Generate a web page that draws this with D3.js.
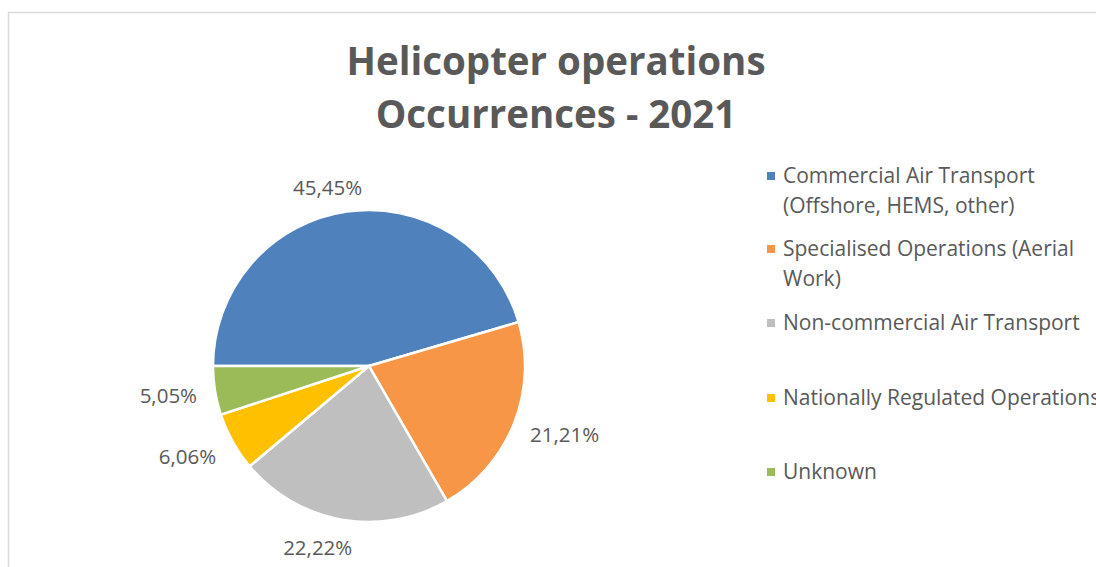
<!DOCTYPE html>
<html>
<head>
<meta charset="utf-8">
<script src="https://cdn.jsdelivr.net/npm/d3@7/dist/d3.min.js"></script>
<style>
  html, body { margin: 0; padding: 0; background: #fff; overflow: hidden; }
  svg { display: block; }
  text { font-family: "Open Sans", "Noto Sans", sans-serif; fill: #595959; }
</style>
</head>
<body>
<svg id="chart" width="1096" height="567"></svg>
<script>
// Occurrences by operation type, 2021
const categories = [
  "Commercial Air Transport (Offshore, HEMS, other)",
  "Specialised Operations (Aerial Work)",
  "Non-commercial Air Transport",
  "Nationally Regulated Operations",
  "Unknown"
];
const legendLines = [
  ["Commercial Air Transport", "(Offshore, HEMS, other)"],
  ["Specialised Operations (Aerial", "Work)"],
  ["Non-commercial Air Transport"],
  ["Nationally Regulated Operations"],
  ["Unknown"]
];
const occurrences = [45, 21, 22, 6, 5];
const colors = ["#4f81bd", "#f79646", "#bfbfbf", "#ffc000", "#9bbb59"];
const titleLines = ["Helicopter operations", "Occurrences - 2021"];

const svg = d3.select("#chart");

// chart area frame
svg.append("path")
  .attr("d", "M8.5,567 L8.5,12.5 L1096,12.5")
  .attr("fill", "none")
  .attr("stroke", "#d9d9d9")
  .attr("stroke-width", 1.5);

// title
const title = svg.append("text")
  .attr("text-anchor", "middle")
  .attr("font-size", 38.5)
  .attr("font-weight", "bold");
titleLines.forEach((t, i) => {
  title.append("tspan").attr("x", 556).attr("y", 75 + i * 53).text(t);
});

// pie
const cx = 369, cy = 366, r = 156;
const total = d3.sum(occurrences);
const pie = d3.pie().sort(null)
  .startAngle(-Math.PI / 2)
  .endAngle(1.5 * Math.PI);
const arcs = pie(occurrences);
const arc = d3.arc().innerRadius(0).outerRadius(r);
const color = d3.scaleOrdinal().domain(categories).range(colors);

const g = svg.append("g").attr("transform", `translate(${cx},${cy})`);
g.selectAll("path.slice")
  .data(arcs)
  .join("path")
  .attr("class", "slice")
  .attr("d", arc)
  .attr("fill", (d, i) => color(categories[i]))
  .attr("stroke", "#fff")
  .attr("stroke-width", 2.5)
  .attr("stroke-linejoin", "round");

// percentage labels outside the slices
const fmt = v => (v * 100).toFixed(2).replace(".", ",") + "%";
const labelArc = d3.arc().innerRadius(r + 30).outerRadius(r + 30);
const labelOffsets = [[-15, 5], [23, -1], [-19, -2], [-19, 0], [-17, 0]];
g.selectAll("text.pct")
  .data(arcs)
  .join("text")
  .attr("class", "pct")
  .attr("text-anchor", "middle")
  .attr("dominant-baseline", "central")
  .attr("font-size", 20.5)
  .attr("transform", (d, i) => {
    const [x, y] = labelArc.centroid(d);
    return `translate(${x + labelOffsets[i][0]},${y + labelOffsets[i][1]})`;
  })
  .text(d => fmt(d.value / total));

// legend
const legendY = [176, 249, 323, 398, 472];
const legend = svg.append("g");
categories.forEach((c, i) => {
  legend.append("rect")
    .attr("x", 767).attr("y", legendY[i] - 4)
    .attr("width", 8).attr("height", 8)
    .attr("fill", color(c));
  const t = legend.append("text").attr("font-size", 21);
  legendLines[i].forEach((line, j) => {
    t.append("tspan").attr("x", 783).attr("y", legendY[i] + 7 + j * 30).text(line);
  });
});
</script>
</body>
</html>
